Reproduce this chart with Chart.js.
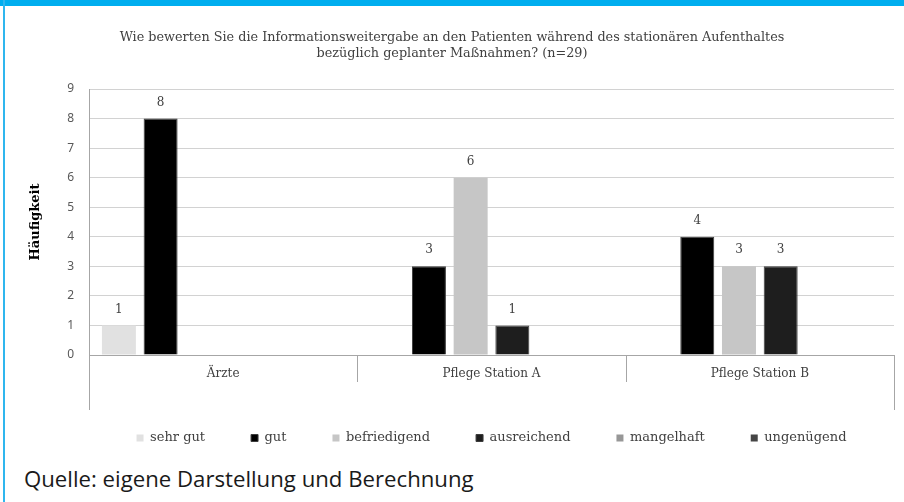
<!DOCTYPE html>
<html>
<head>
<meta charset="utf-8">
<script src="https://cdn.jsdelivr.net/npm/chart.js@4.4.1/dist/chart.umd.min.js"></script>
<style>
html,body{margin:0;padding:0;background:#fff;width:904px;height:502px;overflow:hidden;}
#wrap{position:absolute;left:10px;top:0;width:894px;height:455px;}
#topbar{position:absolute;left:0;top:0;width:904px;height:6px;background:#00aeef;}
#leftbar{position:absolute;left:3px;top:0;width:2px;height:502px;background:#2fb6ee;}
#cap{position:absolute;left:24px;top:466.5px;font-family:"Open Sans";font-size:22.2px;line-height:24px;color:#1a1a1a;white-space:nowrap;}
</style>
</head>
<body>
<div id="wrap"><canvas id="c" width="894" height="455"></canvas></div>
<div id="topbar"></div>
<div id="leftbar"></div>
<div id="cap">Quelle: eigene Darstellung und Berechnung</div>
<script>
// ---- data ----
const categories = ["Ärzte", "Pflege Station A", "Pflege Station B"];
const seriesNames = ["sehr gut", "gut", "befriedigend", "ausreichend", "mangelhaft", "ungenügend"];
const sehrGut      = [1, null, null];
const gut          = [8, 3, 4];
const befriedigend = [null, 6, 3];
const ausreichend  = [null, 1, 3];
const mangelhaft   = [null, null, null];
const ungenuegend  = [null, null, null];
const yTicks = [0, 1, 2, 3, 4, 5, 6, 7, 8, 9];
const titleLines = [
  "Wie bewerten Sie die Informationsweitergabe an den Patienten während des stationären Aufenthaltes",
  "bezüglich geplanter Maßnahmen? (n=29)"
];
const yTitle = "Häufigkeit";

// ---- styles ----
const seriesData = [sehrGut, gut, befriedigend, ausreichend, mangelhaft, ungenuegend];
const fills   = ["#e1e1e1", "#000000", "#c6c6c6", "#1e1e1e", "#979797", "#454545"];
const borders = ["#e1e1e1", "#3c3c3c", "#c6c6c6", "#3c3c3c", "#979797", "#454545"];
const bWidths = [0, 1, 0, 1, 0, 0];

const valueLabels = {
  id: 'valueLabels',
  afterDatasetsDraw(chart) {
    const ctx = chart.ctx;
    ctx.save();
    ctx.font = '12px "DejaVu Serif"';
    ctx.fillStyle = '#404040';
    ctx.textAlign = 'center';
    ctx.textBaseline = 'middle';
    chart.data.datasets.forEach((ds, i) => {
      const meta = chart.getDatasetMeta(i);
      meta.data.forEach((el, j) => {
        const v = ds.data[j];
        if (v === null || v === undefined) return;
        ctx.fillText(String(v), el.x, el.y - 16);
      });
    });
    ctx.restore();
  }
};

// category separators below the axis (short inside, long at the outer edges)
const catSeparators = {
  id: 'catSeparators',
  afterDraw(chart) {
    const { ctx, chartArea } = chart;
    const xs = chart.scales.x;
    const n = xs.ticks.length;
    const step = (xs.right - xs.left) / n;
    ctx.save();
    ctx.strokeStyle = '#a6a6a6';
    ctx.lineWidth = 1;
    for (let i = 0; i <= n; i++) {
      const px = Math.round(xs.left + i * step) + 0.5;
      const len = (i === 0 || i === n) ? 55 : 27;
      ctx.beginPath();
      ctx.moveTo(px, chartArea.bottom);
      ctx.lineTo(px, chartArea.bottom + len);
      ctx.stroke();
    }
    ctx.restore();
  }
};

new Chart(document.getElementById('c'), {
  type: 'bar',
  data: {
    labels: categories,
    datasets: seriesNames.map((n, i) => ({
      label: n,
      data: seriesData[i],
      backgroundColor: fills[i],
      borderColor: borders[i],
      borderWidth: bWidths[i],
      categoryPercentage: 0.9325,
      barPercentage: 0.815
    }))
  },
  options: {
    responsive: false,
    animation: false,
    layout: { padding: { left: 0, right: 10, top: 0, bottom: 0.5 } },
    plugins: {
      title: {
        display: true,
        text: titleLines,
        color: '#404040',
        font: { family: 'DejaVu Serif', size: 12.8, weight: 'normal', lineHeight: '16px' },
        padding: { top: 30, bottom: 27 }
      },
      legend: {
        position: 'bottom',
        fullSize: false,
        labels: {
          boxWidth: 7,
          boxHeight: 7,
          padding: 46,
          color: '#404040',
          font: { family: 'DejaVu Serif', size: 13 }
        }
      },
      tooltip: { enabled: false }
    },
    scales: {
      x: {
        offset: true,
        grid: { display: true, offset: true, drawOnChartArea: false, drawTicks: false, color: '#a6a6a6' },
        border: { display: true, color: '#a6a6a6' },
        ticks: { padding: 12, color: '#404040', font: { family: 'DejaVu Serif', size: 12, lineHeight: '14px' } },
        afterFit(scale) { scale.height = 30.5; }
      },
      y: {
        min: 0,
        max: 9,
        afterBuildTicks(scale) { scale.ticks = yTicks.map(v => ({ value: v })); },
        ticks: { padding: 15, color: '#595959', font: { family: 'Noto Sans', size: 12 } },
        grid: { color: '#d2d2d2', drawTicks: false, lineWidth: 1 },
        border: { display: true, color: '#a6a6a6' },
        title: {
          display: true,
          text: yTitle,
          color: '#000000',
          font: { family: 'DejaVu Serif', size: 13, weight: 'bold' },
          padding: { top: 18.2, bottom: 0 }
        },
        afterFit(scale) { scale.width = 79; }
      }
    }
  },
  plugins: [valueLabels, catSeparators]
});
</script>
</body>
</html>
